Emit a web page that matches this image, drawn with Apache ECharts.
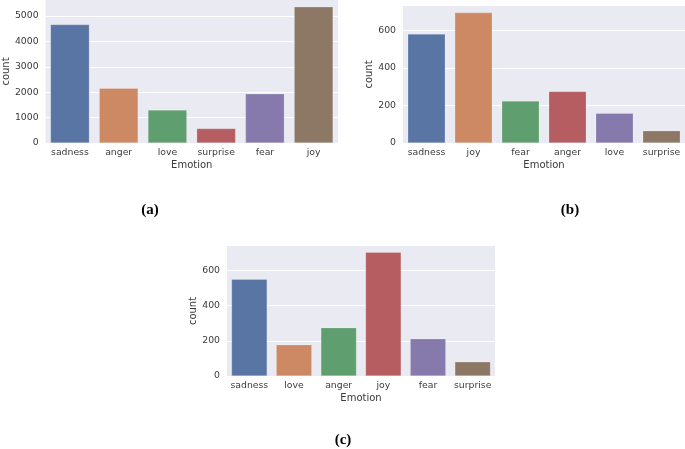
<!DOCTYPE html>
<html><head><meta charset="utf-8">
<script src="https://cdn.jsdelivr.net/npm/echarts@6/dist/echarts.min.js"></script>
<style>html,body{margin:0;padding:0;background:#fff}#c{width:685px;height:449px}</style>
</head><body><div id="c"></div>
<script>
// Panel (a)
const catsA = ['sadness','anger','love','surprise','fear','joy'];
const valsA = [4666, 2159, 1304, 572, 1937, 5362];
const ticksA = [0,1000,2000,3000,4000,5000];
// Panel (b)
const catsB = ['sadness','joy','fear','anger','love','surprise'];
const valsB = [581, 695, 224, 275, 159, 66];
const ticksB = [0,200,400,600];
// Panel (c)
const catsC = ['sadness','love','anger','joy','fear','surprise'];
const valsC = [550, 178, 275, 704, 212, 81];
const ticksC = [0,200,400,600];
const panelLabels = ['(a)','(b)','(c)'];
const xName = 'Emotion', yName = 'count';

const pal = ['#5975A4','#CC8963','#5F9E6E','#B55D60','#857AAB','#8D7866'];

const txt = '#3a3a3a';
const font = 'DejaVu Sans';
function grid(l,t,w,h){return {left:l,top:t,width:w,height:h,show:true,backgroundColor:'#EAEAF2',borderWidth:0,containLabel:false};}
function xAx(cats,i){return {type:'category',gridIndex:i,data:cats,
  axisLine:{show:false},axisTick:{show:false},
  axisLabel:{color:txt,fontFamily:font,fontSize:9.3,margin:5,interval:0,hideOverlap:false},
  name:xName,nameLocation:'middle',nameGap:17,nameTextStyle:{color:txt,fontFamily:font,fontSize:10}};}
function yAx(max,interval,i,gap){return {type:'value',gridIndex:i,min:0,max:max,interval:interval,
  axisLine:{show:false},axisTick:{show:false},
  axisLabel:{color:txt,fontFamily:font,fontSize:9.3,margin:7,showMaxLabel:false,
    formatter:v=>(v%interval===0?String(v):'')},
  splitLine:{show:true,showMaxLine:false,lineStyle:{color:'#ffffff',width:1}},
  name:yName,nameLocation:'middle',nameGap:gap,nameRotate:90,nameTextStyle:{color:txt,fontFamily:font,fontSize:10}};}
function ser(vals,i){return {type:'bar',xAxisIndex:i,yAxisIndex:i,barCategoryGap:'20%',
  data:vals.map((v,k)=>({value:v,itemStyle:{color:pal[k]}})),
  itemStyle:{borderColor:'rgba(255,255,255,0.35)',borderWidth:0.6},
  silent:true};}

const chart = echarts.init(document.getElementById('c'),null,{renderer:'canvas'});
chart.setOption({
  animation:false,
  backgroundColor:'#ffffff',
  grid:[grid(43,0,295,143),grid(403,6,282,137),grid(227,246,268,130)],
  xAxis:[xAx(catsA,0),xAx(catsB,1),xAx(catsC,2)],
  yAxis:[yAx(5630,1000,0,32),yAx(730,200,1,25),yAx(739,200,2,25)],
  series:[ser(valsA,0),ser(valsB,1),ser(valsC,2)],
  graphic:[
    {type:'text',x:150,y:210,style:{text:panelLabels[0],font:'bold 15px "Liberation Serif"',fill:'#000',textAlign:'center',textVerticalAlign:'middle'}},
    {type:'text',x:570,y:210,style:{text:panelLabels[1],font:'bold 15px "Liberation Serif"',fill:'#000',textAlign:'center',textVerticalAlign:'middle'}},
    {type:'text',x:343,y:440,style:{text:panelLabels[2],font:'bold 15px "Liberation Serif"',fill:'#000',textAlign:'center',textVerticalAlign:'middle'}}
  ]
});
</script></body></html>
